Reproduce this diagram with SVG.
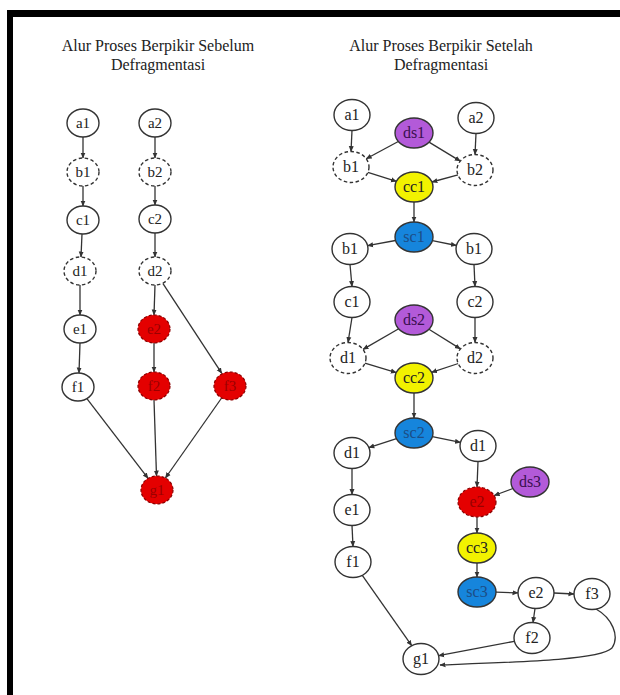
<svg xmlns="http://www.w3.org/2000/svg" width="620" height="695" viewBox="0 0 620 695">
<style>
.n{fill:#fff;stroke:#333;stroke-width:1.4}
.d{stroke-dasharray:3.5,2.5}
.red{fill:#e40000;stroke:#8a0000;stroke-width:1.2;stroke-dasharray:3,2}
.pur{fill:#b35ad9;stroke:#333;stroke-width:1.4}
.yel{fill:#f2f200;stroke:#333;stroke-width:1.4}
.blu{fill:#1685dc;stroke:#333;stroke-width:1.4}
text{font-family:"Liberation Serif","Times New Roman",serif;text-anchor:middle;fill:#222}
.t{font-size:16px}
.l{font-size:15px}
.r{font-size:16px}
.rt{fill:#9a0000}
.bt{fill:#1c4d86}
.pt{fill:#3a1050}
.e{fill:none;stroke:#333;stroke-width:1.3;marker-end:url(#ah)}
</style>
<defs>
<marker id="ah" markerWidth="6" markerHeight="6" refX="5.5" refY="3" orient="auto" markerUnits="userSpaceOnUse">
<path d="M0,0.5 L6,3 L0,5.5 Z" fill="#333"/>
</marker>
</defs>
<rect x="0" y="0" width="620" height="695" fill="#fff"/>
<g id="frame">
<rect x="7" y="10" width="613" height="7" fill="#000"/>
<rect x="7" y="10" width="6" height="685" fill="#000"/>
</g>
<g id="titles">
<text class="t" x="158" y="51">Alur Proses Berpikir Sebelum</text>
<text class="t" x="158" y="70">Defragmentasi</text>
<text class="t" x="441" y="51">Alur Proses Berpikir Setelah</text>
<text class="t" x="441" y="70">Defragmentasi</text>
</g>
<g id="connectors">
<path class="e" d="M83,137 L83,158"/>
<path class="e" d="M83,186 L83,206"/>
<path class="e" d="M82,234 L81,257"/>
<path class="e" d="M80,285 L80,315"/>
<path class="e" d="M80,343 L79,373"/>
<path class="e" d="M155,137 L155,158"/>
<path class="e" d="M155,186 L155,205"/>
<path class="e" d="M155,233 L155,257"/>
<path class="e" d="M155,285 L154,315"/>
<path class="e" d="M154,343 L154,372"/>
<path class="e" d="M163,283.6 L221.8,373.4"/>
<path class="e" d="M86.9,398.6 L148.1,478.4"/>
<path class="e" d="M154,400 L156.5,476"/>
<path class="e" d="M221.6,398 L165.4,478"/>

<path class="e" d="M352,130.5 L351,151.5"/>
<path class="e" d="M476,133.5 L475,154.5"/>
<path class="e" d="M398.3,141.5 L366.2,158.8"/>
<path class="e" d="M429,142.1 L460.3,161.1"/>
<path class="e" d="M367.9,172.4 L396.4,181.4"/>
<path class="e" d="M458,174.8 L431.9,182"/>
<path class="e" d="M414,202 L414,222"/>
<path class="e" d="M395.5,240.5 L367.6,245.7"/>
<path class="e" d="M432.4,240.7 L456.4,245.5"/>
<path class="e" d="M350,264.5 L352,286.5"/>
<path class="e" d="M474,264.5 L475,286.5"/>
<path class="e" d="M352,317.5 L348,342.5"/>
<path class="e" d="M475,317.5 L475,342.5"/>
<path class="e" d="M398.7,328.8 L363,349.4"/>
<path class="e" d="M428.9,329.3 L460.4,348.9"/>
<path class="e" d="M364.9,363.1 L396.3,372.6"/>
<path class="e" d="M458.3,363.5 L431.5,372.3"/>
<path class="e" d="M414,393 L414,418"/>
<path class="e" d="M396.5,438.6 L368.8,447.6"/>
<path class="e" d="M432.3,436.7 L460.5,442.4"/>
<path class="e" d="M352,468.5 L352,494.5"/>
<path class="e" d="M352,525.5 L353,546.5"/>
<path class="e" d="M362.3,575.3 L411.7,645.7"/>
<path class="e" d="M478,461.5 L477,487"/>
<path class="e" d="M512.9,488.5 L494.1,495.5"/>
<path class="e" d="M477,517 L477,533"/>
<path class="e" d="M477,563 L477,577"/>
<path class="e" d="M496,592.2 L518,592.8"/>
<path class="e" d="M554,593 L574,594"/>
<path class="e" d="M535,608.5 L533,622.5"/>
<path class="e" d="M514.4,641.3 L438.6,655.7"/>
<path class="e" d="M596,609 C612,618 620,636 612,648 C600,660 520,662 440,665"/>
</g>

<g id="L_a1"><ellipse class="n" cx="83" cy="123" rx="16" ry="14"/><text class="l" x="83" y="128">a1</text></g>
<g id="L_a2"><ellipse class="n" cx="155" cy="123" rx="16" ry="14"/><text class="l" x="155" y="128">a2</text></g>
<g id="L_b1"><ellipse class="n d" cx="83" cy="172" rx="16" ry="14"/><text class="l" x="83" y="177">b1</text></g>
<g id="L_b2"><ellipse class="n d" cx="155" cy="172" rx="16" ry="14"/><text class="l" x="155" y="177">b2</text></g>
<g id="L_c1"><ellipse class="n" cx="83" cy="220" rx="16" ry="14"/><text class="l" x="83" y="225">c1</text></g>
<g id="L_c2"><ellipse class="n" cx="155" cy="219" rx="16" ry="14"/><text class="l" x="155" y="224">c2</text></g>
<g id="L_d1"><ellipse class="n d" cx="80" cy="271" rx="16" ry="14"/><text class="l" x="80" y="276">d1</text></g>
<g id="L_d2"><ellipse class="n d" cx="155" cy="271" rx="16" ry="14"/><text class="l" x="155" y="276">d2</text></g>
<g id="L_e1"><ellipse class="n" cx="80" cy="329" rx="16" ry="14"/><text class="l" x="80" y="334">e1</text></g>
<g id="L_e2"><ellipse class="red" cx="154" cy="329" rx="16" ry="14"/><text class="l rt" x="154" y="334">e2</text></g>
<g id="L_f1"><ellipse class="n" cx="78" cy="387" rx="16" ry="14"/><text class="l" x="78" y="392">f1</text></g>
<g id="L_f2"><ellipse class="red" cx="154" cy="386" rx="16" ry="14"/><text class="l rt" x="154" y="391">f2</text></g>
<g id="L_f3"><ellipse class="red" cx="230" cy="386" rx="16" ry="14"/><text class="l rt" x="230" y="391">f3</text></g>
<g id="L_g1"><ellipse class="red" cx="157" cy="490" rx="16" ry="14"/><text class="l rt" x="157" y="495">g1</text></g>

<g id="R_a1"><ellipse class="n" cx="352" cy="115" rx="18" ry="15.5"/><text class="r" x="352" y="120">a1</text></g>
<g id="R_ds1"><ellipse class="pur" cx="414" cy="133" rx="19" ry="15"/><text class="r pt" x="414" y="138">ds1</text></g>
<g id="R_a2"><ellipse class="n" cx="476" cy="118" rx="18" ry="15.5"/><text class="r" x="476" y="123">a2</text></g>
<g id="R_b1a"><ellipse class="n d" cx="351" cy="167" rx="18" ry="15.5"/><text class="r" x="351" y="172">b1</text></g>
<g id="R_b2"><ellipse class="n d" cx="475" cy="170" rx="18" ry="15.5"/><text class="r" x="475" y="175">b2</text></g>
<g id="R_cc1"><ellipse class="yel" cx="414" cy="187" rx="19" ry="15"/><text class="r" x="414" y="192">cc1</text></g>
<g id="R_sc1"><ellipse class="blu" cx="414" cy="237" rx="19" ry="15"/><text class="r bt" x="414" y="242">sc1</text></g>
<g id="R_b1b"><ellipse class="n" cx="350" cy="249" rx="18" ry="15.5"/><text class="r" x="350" y="254">b1</text></g>
<g id="R_b1c"><ellipse class="n" cx="474" cy="249" rx="18" ry="15.5"/><text class="r" x="474" y="254">b1</text></g>
<g id="R_c1"><ellipse class="n" cx="352" cy="302" rx="18" ry="15.5"/><text class="r" x="352" y="307">c1</text></g>
<g id="R_c2"><ellipse class="n" cx="475" cy="302" rx="18" ry="15.5"/><text class="r" x="475" y="307">c2</text></g>
<g id="R_ds2"><ellipse class="pur" cx="414" cy="320" rx="19" ry="15"/><text class="r pt" x="414" y="325">ds2</text></g>
<g id="R_d1a"><ellipse class="n d" cx="348" cy="358" rx="18" ry="15.5"/><text class="r" x="348" y="363">d1</text></g>
<g id="R_d2"><ellipse class="n d" cx="475" cy="358" rx="18" ry="15.5"/><text class="r" x="475" y="363">d2</text></g>
<g id="R_cc2"><ellipse class="yel" cx="414" cy="378" rx="19" ry="15"/><text class="r" x="414" y="383">cc2</text></g>
<g id="R_sc2"><ellipse class="blu" cx="414" cy="433" rx="19" ry="15"/><text class="r bt" x="414" y="438">sc2</text></g>
<g id="R_d1b"><ellipse class="n" cx="352" cy="453" rx="18" ry="15.5"/><text class="r" x="352" y="458">d1</text></g>
<g id="R_d1c"><ellipse class="n" cx="478" cy="446" rx="18" ry="15.5"/><text class="r" x="478" y="451">d1</text></g>
<g id="R_ds3"><ellipse class="pur" cx="530" cy="482" rx="19" ry="15"/><text class="r pt" x="530" y="487">ds3</text></g>
<g id="R_e2a"><ellipse class="red" cx="477" cy="502" rx="19" ry="15"/><text class="r rt" x="477" y="507">e2</text></g>
<g id="R_e1"><ellipse class="n" cx="352" cy="510" rx="18" ry="15.5"/><text class="r" x="352" y="515">e1</text></g>
<g id="R_cc3"><ellipse class="yel" cx="477" cy="548" rx="19" ry="15"/><text class="r" x="477" y="553">cc3</text></g>
<g id="R_f1"><ellipse class="n" cx="353" cy="562" rx="18" ry="15.5"/><text class="r" x="353" y="567">f1</text></g>
<g id="R_sc3"><ellipse class="blu" cx="477" cy="592" rx="19" ry="15"/><text class="r bt" x="477" y="597">sc3</text></g>
<g id="R_e2b"><ellipse class="n" cx="536" cy="593" rx="18" ry="15.5"/><text class="r" x="536" y="598">e2</text></g>
<g id="R_f3"><ellipse class="n" cx="592" cy="594" rx="18" ry="15.5"/><text class="r" x="592" y="599">f3</text></g>
<g id="R_f2"><ellipse class="n" cx="532" cy="638" rx="18" ry="15.5"/><text class="r" x="532" y="643">f2</text></g>
<g id="R_g1"><ellipse class="n" cx="421" cy="659" rx="18" ry="15.5"/><text class="r" x="421" y="664">g1</text></g>
</svg>
